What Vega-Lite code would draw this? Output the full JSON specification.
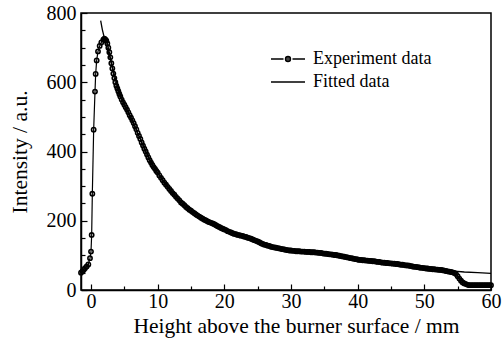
{
  "$schema": "https://vega.github.io/schema/vega-lite/v6.json",
  "autosize": {"type": "none"},
  "width": 410,
  "height": 277,
  "padding": {"left": 81, "top": 13, "right": 13, "bottom": 51},
  "background": "white",
  "config": {
    "view": {"stroke": "black", "strokeWidth": 1.5},
    "font": "Liberation Serif",
    "axis": {
      "grid": false,
      "domainColor": "black",
      "domainWidth": 1.5,
      "tickColor": "black",
      "tickWidth": 1.2,
      "labelFont": "Liberation Serif",
      "labelColor": "black",
      "labelFontSize": 20,
      "titleFont": "Liberation Serif",
      "titleColor": "black",
      "titleFontSize": 21.5,
      "titleFontWeight": "normal"
    }
  },
  "datasets": {
    "exp": [
      {"height": -1.5, "intensity": 50}, {"height": -1.3, "intensity": 54}, {"height": -1.1, "intensity": 58},
      {"height": -0.9, "intensity": 63}, {"height": -0.65, "intensity": 68}, {"height": -0.4, "intensity": 74},
      {"height": -0.15, "intensity": 92}, {"height": 0.0, "intensity": 111}, {"height": 0.1, "intensity": 159},
      {"height": 0.2, "intensity": 278}, {"height": 0.4, "intensity": 463}, {"height": 0.6, "intensity": 573},
      {"height": 0.7, "intensity": 624}, {"height": 0.85, "intensity": 663}, {"height": 1.05, "intensity": 689},
      {"height": 1.3, "intensity": 705}, {"height": 1.55, "intensity": 715}, {"height": 1.85, "intensity": 723},
      {"height": 2.0, "intensity": 726}, {"height": 2.15, "intensity": 724}, {"height": 2.3, "intensity": 720},
      {"height": 2.45, "intensity": 712}, {"height": 2.6, "intensity": 700}, {"height": 2.75, "intensity": 687},
      {"height": 2.9, "intensity": 672}, {"height": 3.05, "intensity": 655}, {"height": 3.2, "intensity": 640},
      {"height": 3.35, "intensity": 625}, {"height": 3.5, "intensity": 612}, {"height": 3.65, "intensity": 600},
      {"height": 3.8, "intensity": 590}, {"height": 3.95, "intensity": 582}, {"height": 4.1, "intensity": 574},
      {"height": 4.25, "intensity": 566}, {"height": 4.4, "intensity": 559}, {"height": 4.6, "intensity": 550},
      {"height": 4.8, "intensity": 542}, {"height": 5.0, "intensity": 535}, {"height": 5.2, "intensity": 528},
      {"height": 5.4, "intensity": 521}, {"height": 5.6, "intensity": 513}, {"height": 5.8, "intensity": 505},
      {"height": 6.0, "intensity": 498}, {"height": 6.2, "intensity": 490}, {"height": 6.4, "intensity": 482},
      {"height": 6.6, "intensity": 473}, {"height": 6.8, "intensity": 464}, {"height": 7.0, "intensity": 454},
      {"height": 7.2, "intensity": 445}, {"height": 7.4, "intensity": 436}, {"height": 7.6, "intensity": 426},
      {"height": 7.8, "intensity": 417}, {"height": 8.0, "intensity": 408}, {"height": 8.2, "intensity": 400},
      {"height": 8.4, "intensity": 391}, {"height": 8.6, "intensity": 383}, {"height": 8.8, "intensity": 375},
      {"height": 9.0, "intensity": 368}, {"height": 9.2, "intensity": 361}, {"height": 9.4, "intensity": 355},
      {"height": 9.6, "intensity": 350}, {"height": 9.8, "intensity": 344}, {"height": 10.0, "intensity": 339},
      {"height": 10.25, "intensity": 331}, {"height": 10.5, "intensity": 324}, {"height": 10.75, "intensity": 317},
      {"height": 11.0, "intensity": 310}, {"height": 11.25, "intensity": 304}, {"height": 11.5, "intensity": 298},
      {"height": 11.75, "intensity": 292}, {"height": 12.0, "intensity": 286}, {"height": 12.25, "intensity": 280},
      {"height": 12.5, "intensity": 275}, {"height": 12.75, "intensity": 269}, {"height": 13.0, "intensity": 264},
      {"height": 13.25, "intensity": 259}, {"height": 13.5, "intensity": 253}, {"height": 13.75, "intensity": 249},
      {"height": 14.0, "intensity": 245}, {"height": 14.25, "intensity": 240}, {"height": 14.5, "intensity": 236},
      {"height": 14.75, "intensity": 232}, {"height": 15.0, "intensity": 229}, {"height": 15.25, "intensity": 225},
      {"height": 15.5, "intensity": 222}, {"height": 15.75, "intensity": 218}, {"height": 16.0, "intensity": 215},
      {"height": 16.25, "intensity": 212}, {"height": 16.5, "intensity": 209}, {"height": 16.75, "intensity": 206},
      {"height": 17.0, "intensity": 203}, {"height": 17.25, "intensity": 201}, {"height": 17.5, "intensity": 198},
      {"height": 17.75, "intensity": 196}, {"height": 18.0, "intensity": 194}, {"height": 18.25, "intensity": 192},
      {"height": 18.5, "intensity": 190}, {"height": 18.75, "intensity": 187}, {"height": 19.0, "intensity": 184},
      {"height": 19.25, "intensity": 182}, {"height": 19.5, "intensity": 179}, {"height": 19.75, "intensity": 177},
      {"height": 20.0, "intensity": 175}, {"height": 20.25, "intensity": 173}, {"height": 20.5, "intensity": 170},
      {"height": 20.75, "intensity": 168}, {"height": 21.0, "intensity": 166}, {"height": 21.25, "intensity": 164},
      {"height": 21.5, "intensity": 162}, {"height": 21.75, "intensity": 161}, {"height": 22.0, "intensity": 159},
      {"height": 22.25, "intensity": 158}, {"height": 22.5, "intensity": 157}, {"height": 22.75, "intensity": 156},
      {"height": 23.0, "intensity": 154}, {"height": 23.25, "intensity": 153}, {"height": 23.5, "intensity": 151},
      {"height": 23.75, "intensity": 150}, {"height": 24.0, "intensity": 148}, {"height": 24.25, "intensity": 146},
      {"height": 24.5, "intensity": 144}, {"height": 24.75, "intensity": 142}, {"height": 25.0, "intensity": 140},
      {"height": 25.25, "intensity": 138}, {"height": 25.5, "intensity": 135}, {"height": 25.75, "intensity": 133},
      {"height": 26.0, "intensity": 131}, {"height": 26.25, "intensity": 130}, {"height": 26.5, "intensity": 128},
      {"height": 26.75, "intensity": 127}, {"height": 27.0, "intensity": 125}, {"height": 27.25, "intensity": 124},
      {"height": 27.5, "intensity": 123}, {"height": 27.75, "intensity": 122}, {"height": 28.0, "intensity": 121},
      {"height": 28.25, "intensity": 120}, {"height": 28.5, "intensity": 119}, {"height": 28.75, "intensity": 118},
      {"height": 29.0, "intensity": 117}, {"height": 29.25, "intensity": 116}, {"height": 29.5, "intensity": 115},
      {"height": 29.75, "intensity": 114}, {"height": 30.0, "intensity": 114}, {"height": 30.25, "intensity": 113},
      {"height": 30.5, "intensity": 113}, {"height": 30.75, "intensity": 112}, {"height": 31.0, "intensity": 112},
      {"height": 31.25, "intensity": 112}, {"height": 31.5, "intensity": 111}, {"height": 31.75, "intensity": 111},
      {"height": 32.0, "intensity": 111}, {"height": 32.25, "intensity": 110}, {"height": 32.5, "intensity": 110},
      {"height": 32.75, "intensity": 110}, {"height": 33.0, "intensity": 109}, {"height": 33.25, "intensity": 109},
      {"height": 33.5, "intensity": 109}, {"height": 33.75, "intensity": 108}, {"height": 34.0, "intensity": 108},
      {"height": 34.25, "intensity": 107}, {"height": 34.5, "intensity": 107}, {"height": 34.75, "intensity": 106},
      {"height": 35.0, "intensity": 105}, {"height": 35.25, "intensity": 105}, {"height": 35.5, "intensity": 104},
      {"height": 35.75, "intensity": 103}, {"height": 36.0, "intensity": 103}, {"height": 36.25, "intensity": 102},
      {"height": 36.5, "intensity": 101}, {"height": 36.75, "intensity": 101}, {"height": 37.0, "intensity": 100},
      {"height": 37.25, "intensity": 99}, {"height": 37.5, "intensity": 98}, {"height": 37.75, "intensity": 97},
      {"height": 38.0, "intensity": 96}, {"height": 38.25, "intensity": 95}, {"height": 38.5, "intensity": 94},
      {"height": 38.75, "intensity": 93}, {"height": 39.0, "intensity": 92}, {"height": 39.25, "intensity": 91},
      {"height": 39.5, "intensity": 90}, {"height": 39.75, "intensity": 89}, {"height": 40.0, "intensity": 88},
      {"height": 40.25, "intensity": 87}, {"height": 40.5, "intensity": 87}, {"height": 40.75, "intensity": 86},
      {"height": 41.0, "intensity": 86}, {"height": 41.25, "intensity": 85}, {"height": 41.5, "intensity": 85},
      {"height": 41.75, "intensity": 84}, {"height": 42.0, "intensity": 84}, {"height": 42.25, "intensity": 83},
      {"height": 42.5, "intensity": 83}, {"height": 42.75, "intensity": 82}, {"height": 43.0, "intensity": 81},
      {"height": 43.25, "intensity": 81}, {"height": 43.5, "intensity": 80}, {"height": 43.75, "intensity": 79},
      {"height": 44.0, "intensity": 79}, {"height": 44.25, "intensity": 78}, {"height": 44.5, "intensity": 78},
      {"height": 44.75, "intensity": 77}, {"height": 45.0, "intensity": 77}, {"height": 45.25, "intensity": 76},
      {"height": 45.5, "intensity": 76}, {"height": 45.75, "intensity": 75}, {"height": 46.0, "intensity": 75},
      {"height": 46.25, "intensity": 74}, {"height": 46.5, "intensity": 73}, {"height": 46.75, "intensity": 73},
      {"height": 47.0, "intensity": 72}, {"height": 47.25, "intensity": 71}, {"height": 47.5, "intensity": 71},
      {"height": 47.75, "intensity": 70}, {"height": 48.0, "intensity": 69}, {"height": 48.25, "intensity": 68},
      {"height": 48.5, "intensity": 67}, {"height": 48.75, "intensity": 67}, {"height": 49.0, "intensity": 66},
      {"height": 49.25, "intensity": 65}, {"height": 49.5, "intensity": 64}, {"height": 49.75, "intensity": 64},
      {"height": 50.0, "intensity": 63}, {"height": 50.25, "intensity": 62}, {"height": 50.5, "intensity": 62},
      {"height": 50.75, "intensity": 61}, {"height": 51.0, "intensity": 61}, {"height": 51.25, "intensity": 60},
      {"height": 51.5, "intensity": 60}, {"height": 51.75, "intensity": 59}, {"height": 52.0, "intensity": 59},
      {"height": 52.25, "intensity": 58}, {"height": 52.5, "intensity": 58}, {"height": 52.75, "intensity": 57},
      {"height": 53.0, "intensity": 56}, {"height": 53.25, "intensity": 55}, {"height": 53.5, "intensity": 54},
      {"height": 53.75, "intensity": 53}, {"height": 54.0, "intensity": 52}, {"height": 54.25, "intensity": 51},
      {"height": 54.5, "intensity": 49}, {"height": 54.75, "intensity": 46}, {"height": 55.0, "intensity": 40},
      {"height": 55.25, "intensity": 33}, {"height": 55.5, "intensity": 27}, {"height": 55.75, "intensity": 22},
      {"height": 56.0, "intensity": 19}, {"height": 56.25, "intensity": 17}, {"height": 56.5, "intensity": 15},
      {"height": 56.75, "intensity": 14}, {"height": 57.0, "intensity": 14}, {"height": 57.25, "intensity": 14},
      {"height": 57.5, "intensity": 14}, {"height": 57.75, "intensity": 14}, {"height": 58.0, "intensity": 14},
      {"height": 58.25, "intensity": 14}, {"height": 58.5, "intensity": 14}, {"height": 58.75, "intensity": 14},
      {"height": 59.0, "intensity": 14}, {"height": 59.25, "intensity": 14}, {"height": 59.5, "intensity": 14},
      {"height": 59.75, "intensity": 14}, {"height": 60.0, "intensity": 14}
    ],
    "fit": [
      {"height": 1.45, "intensity": 778}, {"height": 1.7, "intensity": 752}, {"height": 2.0, "intensity": 728},
      {"height": 2.3, "intensity": 706}, {"height": 2.6, "intensity": 688}, {"height": 3.0, "intensity": 660},
      {"height": 3.5, "intensity": 622}, {"height": 4.0, "intensity": 590}, {"height": 4.5, "intensity": 560},
      {"height": 5.0, "intensity": 535}, {"height": 5.5, "intensity": 515}, {"height": 6.0, "intensity": 494},
      {"height": 6.5, "intensity": 475}, {"height": 7.0, "intensity": 453}, {"height": 7.5, "intensity": 432},
      {"height": 8.0, "intensity": 410}, {"height": 8.5, "intensity": 389}, {"height": 9.0, "intensity": 369},
      {"height": 9.5, "intensity": 352}, {"height": 10.0, "intensity": 337}, {"height": 10.5, "intensity": 325},
      {"height": 11.0, "intensity": 311}, {"height": 12.0, "intensity": 285}, {"height": 13.0, "intensity": 263},
      {"height": 14.0, "intensity": 245}, {"height": 15.0, "intensity": 229}, {"height": 16.0, "intensity": 215},
      {"height": 17.0, "intensity": 203}, {"height": 18.0, "intensity": 193}, {"height": 19.0, "intensity": 184},
      {"height": 20.0, "intensity": 175}, {"height": 21.0, "intensity": 167}, {"height": 22.0, "intensity": 160},
      {"height": 23.0, "intensity": 153}, {"height": 24.0, "intensity": 147}, {"height": 25.0, "intensity": 140},
      {"height": 26.0, "intensity": 132}, {"height": 27.0, "intensity": 126}, {"height": 28.0, "intensity": 121},
      {"height": 29.0, "intensity": 117}, {"height": 30.0, "intensity": 114}, {"height": 32.0, "intensity": 111},
      {"height": 34.0, "intensity": 108}, {"height": 36.0, "intensity": 103}, {"height": 38.0, "intensity": 97},
      {"height": 40.0, "intensity": 89}, {"height": 42.0, "intensity": 84}, {"height": 44.0, "intensity": 79},
      {"height": 46.0, "intensity": 75}, {"height": 48.0, "intensity": 70}, {"height": 50.0, "intensity": 64},
      {"height": 52.0, "intensity": 59}, {"height": 54.0, "intensity": 55}, {"height": 56.0, "intensity": 52},
      {"height": 58.0, "intensity": 50}, {"height": 60.0, "intensity": 48}
    ]
  },
  "encoding": {
    "x": {
      "field": "height",
      "type": "quantitative",
      "scale": {"domain": [-1.5, 60], "nice": false, "zero": false},
      "axis": {
        "title": "Height above the burner surface / mm",
        "titleX": 215,
        "values": [0, 5, 10, 15, 20, 25, 30, 35, 40, 45, 50, 55, 60],
        "labelExpr": "datum.value % 10 === 0 ? datum.label : ''",
        "tickSize": {"condition": {"test": "datum.value % 10 === 0", "value": -6}, "value": -4},
        "labelPadding": 7,
        "labelFlush": false,
        "titlePadding": 4
      }
    },
    "y": {
      "field": "intensity",
      "type": "quantitative",
      "scale": {"domain": [0, 800], "nice": false},
      "axis": {
        "title": "Intensity / a.u.",
        "values": [0, 50, 100, 150, 200, 250, 300, 350, 400, 450, 500, 550, 600, 650, 700, 750, 800],
        "labelExpr": "datum.value % 200 === 0 ? datum.label : ''",
        "tickSize": {"condition": {"test": "datum.value % 200 === 0", "value": -6}, "value": -4},
        "labelPadding": 11,
        "labelFlush": false,
        "titlePadding": 15
      }
    }
  },
  "layer": [
    {
      "data": {"name": "fit"},
      "transform": [{"calculate": "'Fitted data'", "as": "series"}],
      "mark": {"type": "line", "strokeWidth": 1.3, "color": "black"},
      "encoding": {
        "stroke": {
          "field": "series",
          "type": "nominal",
          "scale": {"domain": ["Experiment data", "Fitted data"], "range": ["black", "black"]},
          "legend": {
            "title": null,
            "orient": "none",
            "legendX": 198,
            "legendY": 37,
            "padding": 0,
            "symbolSize": 100,
            "labelFont": "Liberation Serif",
            "labelFontSize": 18,
            "labelColor": "black",
            "labelOffset": 16,
            "rowPadding": 5,
            "encode": {
              "symbols": {
                "update": {
                  "shape": {"signal": "datum.value === 'Experiment data' ? 'M-3.4,0H-0.9M0.9,0H3.4M-0.5,0A0.5,0.5 0 1,0 0.5,0A0.5,0.5 0 1,0 -0.5,0Z' : 'M-3.4,0H3.4'"},
                  "fill": {"value": "#444"},
                  "stroke": {"value": "black"},
                  "strokeWidth": {"value": 1.4}
                }
              }
            }
          }
        }
      }
    },
    {
      "data": {"name": "exp"},
      "mark": {"type": "line", "strokeWidth": 1.2, "color": "black"}
    },
    {
      "data": {"name": "exp"},
      "mark": {"type": "point", "shape": "circle", "filled": false, "fill": null, "size": 18, "stroke": "black", "strokeWidth": 1.6, "opacity": 1}
    }
  ]
}
